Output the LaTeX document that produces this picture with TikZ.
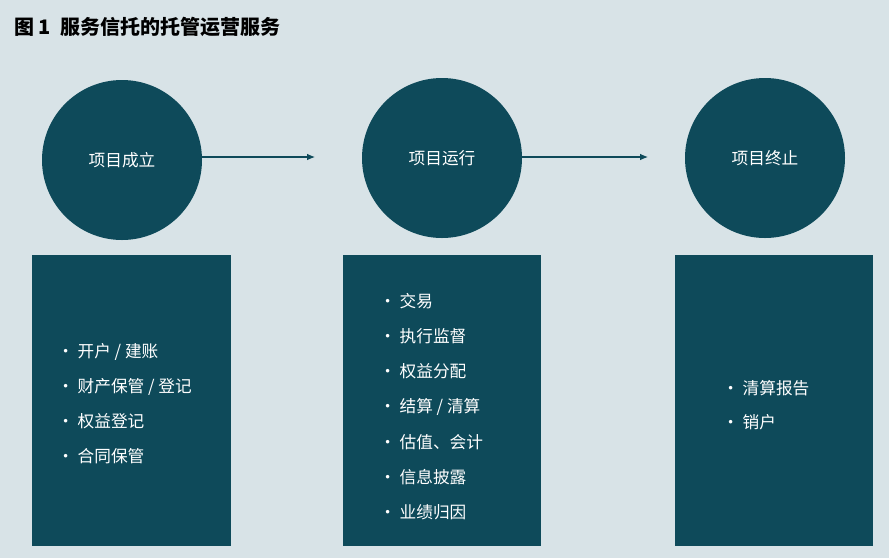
\documentclass[tikz,border=0pt]{standalone}
\usepackage{fontspec}
\newfontfamily\cjk{Noto Sans CJK SC}
\definecolor{bg}{HTML}{D8E3E7}
\definecolor{teal}{HTML}{0E4A5A}
\begin{document}
\begin{tikzpicture}[x=0.75pt,y=-0.75pt,font=\cjk\fontsize{12.5}{15}\selectfont,
  circ/.style={circle,fill=teal,minimum size=160*0.75pt,inner sep=0,text=white},
  panel/.style={fill=teal,draw=none},
  item/.style={anchor=west,text=white,inner sep=0},
  conn/.style={draw=teal,line width=0.8pt,-{Latex[length=6pt,width=5pt]}}]
\usetikzlibrary{arrows.meta}
\fill[bg] (0,0) rectangle (889,558);
\node[anchor=west,inner sep=0,font=\cjk\bfseries\fontsize{15}{18}\selectfont] (title) at (14,27) {图 1\ \ 服务信托的托管运营服务};
\node[circ] (c1) at (122,160) {项目成立};
\node[circ] (c2) at (442,158) {项目运行};
\node[circ] (c3) at (765,158) {项目终止};
\draw[conn] (c1.east) ++(-2,-3) coordinate (a1) -- (315,157) coordinate (b1);
\draw[conn] (c2.east) ++(0,-1) coordinate (a2) -- (648,157) coordinate (b2);
\fill[panel] (32,255) rectangle (231,546);
\fill[panel] (343,255) rectangle (541,546);
\fill[panel] (675,255) rectangle (873,546);
\foreach \t [count=\i] in {开户 / 建账,财产保管 / 登记,权益登记,合同保管}
  \node[item] (l\i) at (57,{352+(\i-1)*34.7}) {·\ \t};
\foreach \t [count=\i] in {交易,执行监督,权益分配,结算 / 清算,估值、会计,信息披露,业绩归因}
  \node[item] (m\i) at (379,{301+(\i-1)*35.2}) {·\ \t};
\foreach \t [count=\i] in {清算报告,销户}
  \node[item] (r\i) at (722,{388+(\i-1)*34.5}) {·\ \t};
\end{tikzpicture}
\end{document}
